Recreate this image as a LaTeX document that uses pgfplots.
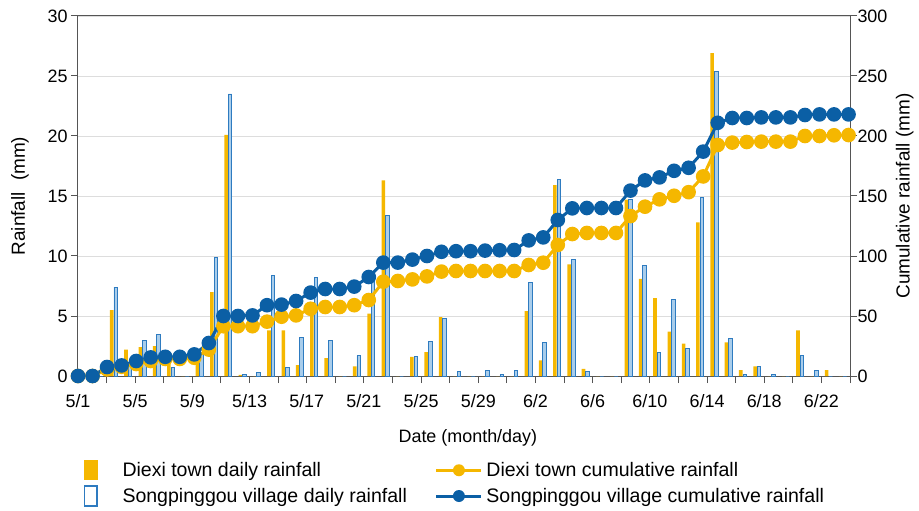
\documentclass[border=0pt]{standalone}
\usepackage{pgfplots}
\pgfplotsset{compat=1.18}
\usepackage{pgfplotstable}
\usepackage{fontspec}
\setmainfont{Liberation Sans}

\definecolor{dxyellow}{HTML}{F5B700}
\definecolor{spblue}{HTML}{0B5FA5}
\definecolor{spbarfill}{HTML}{A9CDEB}
\definecolor{spbaredge}{HTML}{2E7BC0}
\definecolor{axisgray}{HTML}{555555}
\definecolor{gridgray}{HTML}{DDDDDD}

% daily rainfall (mm), day 0 = 5/1
\pgfplotstableread{
day diexi song
0 0 0
1 0 0
2 5.5 7.4
3 2.2 0.9
4 2.4 3.0
5 2.5 3.5
6 1.6 0.7
7 0 0
8 1.2 1.8
9 7.0 9.9
10 20.1 23.5
11 0.1 0.1
12 0 0.3
13 3.8 8.4
14 3.8 0.7
15 0.9 3.2
16 5.1 8.2
17 1.5 3.0
18 0 0
19 0.8 1.7
20 5.2 8.0
21 16.3 13.4
22 0 0
23 1.6 1.6
24 2.0 2.9
25 4.9 4.8
26 0 0.4
27 0 0
28 0 0.5
29 0 0.1
30 0 0.5
31 5.4 7.8
32 1.3 2.8
33 15.9 16.4
34 9.3 9.7
35 0.6 0.4
36 0 0
37 0 0
38 14.7 14.7
39 8.1 9.2
40 6.5 2.0
41 3.7 6.4
42 2.7 2.3
43 12.8 14.9
44 26.9 25.4
45 2.8 3.1
46 0.5 0.1
47 0.8 0.8
48 0 0.1
49 0 0
50 3.8 1.7
51 0 0.5
52 0.5 0
53 0 0
}\daily

% cumulative rainfall (mm)
\pgfplotstableread{
day diexi song
0 0 0
1 0 0
2 5.5 7.5
3 7.7 8.8
4 10.0 12.5
5 12.5 15.5
6 14.2 16.0
7 14.2 16.0
8 15.2 18.0
9 22.0 27.5
10 41.5 50.0
11 41.5 50.0
12 41.5 50.5
13 45.3 59.0
14 49.4 59.5
15 50.5 62.5
16 56.0 69.5
17 57.5 72.5
18 57.5 72.5
19 59.0 74.5
20 63.3 82.5
21 78.6 94.5
22 79.2 94.5
23 80.5 97.0
24 83.0 100.0
25 87.0 103.5
26 87.5 104.0
27 87.5 104.0
28 87.5 104.5
29 87.5 104.8
30 87.5 105.0
31 92.5 113.0
32 94.4 115.5
33 109.2 130.0
34 118.3 139.7
35 119.2 140.0
36 119.2 140.0
37 119.2 140.0
38 133.3 154.5
39 141.1 163.0
40 147.2 165.5
41 150.2 171.0
42 153.2 173.5
43 166.3 187.0
44 192.5 211.0
45 194.5 215.0
46 195.0 215.0
47 195.3 215.5
48 195.3 215.5
49 195.3 215.5
50 200.0 217.5
51 200.0 218.0
52 200.6 218.0
53 200.8 218.0
}\cumul

\begin{document}
\begin{tikzpicture}[font=\fontsize{18}{21.6}\selectfont]
% page frame around the plot area
\useasboundingbox (-78bp,-135bp) rectangle (841bp,376bp);
% daily bars, left axis
\begin{axis}[
  name=bars,
  at={(0,0)}, anchor=south west,
  scale only axis, width=772bp, height=360bp,
  xmin=-0.5, xmax=53.5, ymin=0, ymax=30,
  ytick={0,5,...,30},
  xtick={-0.5,3.5,...,51.5},
  xticklabels={5/1,5/5,5/9,5/13,5/17,5/21,5/25,5/29,6/2,6/6,6/10,6/14,6/18,6/22},
  minor xtick={1.5,5.5,...,53.5},
  tick align=outside,
  major tick length=7bp, minor tick length=7bp,
  xtick pos=bottom, ytick pos=left,
  ymajorgrids, grid style={gridgray, line width=0.8bp},
  axis line style={axisgray, line width=1bp},
  tick style={axisgray, line width=1bp},
  /pgf/number format/assume math mode=true,
  xticklabel style={yshift=-8bp},
  xlabel={Date (month/day)},
  xlabel style={at={(axis description cs:0.505,-0.172)}, anchor=center},
  ylabel={Rainfall\hspace{0.6em}(mm)},
  ylabel style={at={(axis description cs:-0.075,0.5)}, anchor=center, font=\fontsize{19}{22}\selectfont},
]
\addplot[ybar, bar width=0.25, bar shift=-0.14, fill=dxyellow, draw=none]
  table[x=day, y=diexi]{\daily};
\addplot[ybar, bar width=0.25, bar shift=0.14, fill=spbarfill, draw=spbaredge, line width=0.9bp]
  table[x=day, y=song]{\daily};
\end{axis}

% cumulative lines, right axis
\begin{axis}[
  at={(0,0)}, anchor=south west,
  scale only axis, width=772bp, height=360bp,
  xmin=0, xmax=53.1, ymin=0, ymax=300,
  axis x line=none, axis y line*=right,
  ytick={0,50,...,300},
  tick align=outside, major tick length=7bp,
  axis line style={axisgray, line width=1bp},
  tick style={axisgray, line width=1bp},
  /pgf/number format/assume math mode=true,
  yticklabel style={xshift=-3bp},
  ylabel={Cumulative rainfall (mm)},
  ylabel style={at={(axis description cs:1.071,0.5)}, anchor=center, font=\fontsize{19}{22}\selectfont},
  legend columns=2,
  legend cell align=left,
  legend style={at={(axis description cs:0.003,-0.228)}, anchor=north west,
    draw=none, fill=none, font=\fontsize{19.6}{23}\selectfont,
    row sep=5bp,
    nodes={inner sep=2bp},
    /tikz/every even column/.append style={column sep=26bp}},
]
\addlegendimage{legend image code/.code={
  \fill[dxyellow, draw=none] (0bp,-10bp) rectangle (14bp,10bp);
  \path[draw=none, fill=none] (0bp,0bp) -- (37bp,0bp);}}
\addlegendentry{Diexi town daily rainfall}
\addplot[dxyellow, line width=3bp, mark=*, mark size=5.8bp,
  mark options={fill=dxyellow, draw=none},
  legend image code/.code={
    \draw[dxyellow, line width=3bp] (0bp,0bp) -- (45bp,0bp);
    \fill[dxyellow, draw=none] (22.5bp,0bp) circle (6bp);
    \path[draw=none, fill=none] (0bp,0bp) -- (48bp,0bp);}]
  table[x=day, y=diexi]{\cumul};
\addlegendentry{Diexi town cumulative rainfall}
\addlegendimage{legend image code/.code={
  \draw[spbaredge, line width=1.5bp, fill=white] (0.75bp,-10bp) rectangle (13.25bp,10bp);
  \path[draw=none, fill=none] (0bp,0bp) -- (37bp,0bp);}}
\addlegendentry{Songpinggou village daily rainfall}
\addplot[spblue, line width=3bp, mark=*, mark size=5.8bp,
  mark options={fill=spblue, draw=none},
  legend image code/.code={
    \draw[spblue, line width=3bp] (0bp,0bp) -- (45bp,0bp);
    \fill[spblue, draw=none] (22.5bp,0bp) circle (6bp);
    \path[draw=none, fill=none] (0bp,0bp) -- (48bp,0bp);}]
  table[x=day, y=song]{\cumul};
\addlegendentry{Songpinggou village cumulative rainfall}
\end{axis}
\end{tikzpicture}
\end{document}
